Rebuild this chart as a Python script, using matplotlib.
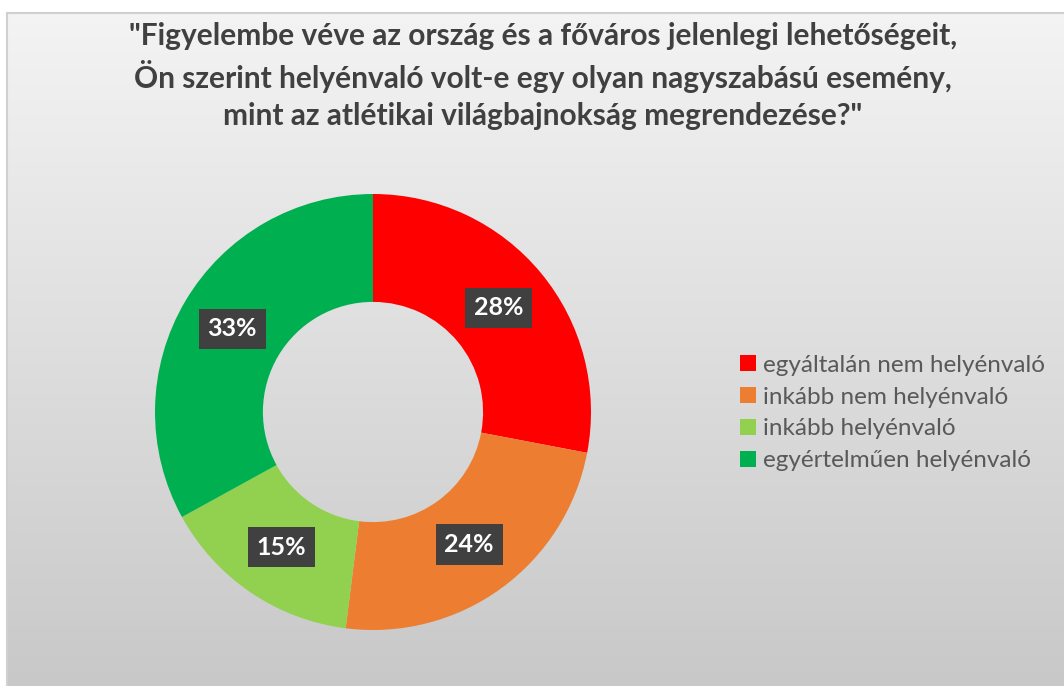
import numpy as np
import matplotlib.pyplot as plt
from matplotlib.patches import Patch

# Data
categories = [
    "egyáltalán nem helyénvaló",
    "inkább nem helyénvaló",
    "inkább helyénvaló",
    "egyértelműen helyénvaló",
]
shares = [28, 24, 15, 33]
colors = ["#FF0000", "#ED7D31", "#92D050", "#00B050"]

TITLE = ('"Figyelembe véve az ország és a főváros jelenlegi lehetőségeit,\n'
         'Ön szerint helyénvaló volt-e egy olyan nagyszabású esemény,\n'
         'mint az atlétikai világbajnokság megrendezése?"')
TEXT = "#404040"
FONT = "Lato"

W, H = 1064, 686
fig = plt.figure(figsize=(W / 100, H / 100), dpi=100)
fig.patch.set_facecolor("white")

# chart area background with a soft vertical gradient
bg = fig.add_axes([7 / W, 0, 1 - 7 / W, 1 - 13 / H])
grad = np.linspace(0, 1, 256).reshape(-1, 1)
top, bottom = np.array([0.955, 0.955, 0.955]), np.array([0.785, 0.785, 0.785])
img = top + (bottom - top) * grad[..., None]
bg.imshow(img, aspect="auto", extent=[0, 1, 0, 1], origin="upper")
bg.set_xticks([])
bg.set_yticks([])
for s in ["right", "bottom"]:
    bg.spines[s].set_visible(False)
for s in ["left", "top"]:
    bg.spines[s].set_color("#d0d0d0")
    bg.spines[s].set_linewidth(1.5)

# donut
cx, cy, r = 373, 412, 218
ax = fig.add_axes([(cx - r) / W, 1 - (cy + r) / H, 2 * r / W, 2 * r / H])
ax.set_facecolor("none")
wedges, _ = ax.pie(shares, colors=colors, startangle=90, counterclock=False,
                   radius=1, wedgeprops=dict(width=0.495, linewidth=0))
ax.set_xlim(-1, 1)
ax.set_ylim(-1, 1)
ax.set_aspect("equal")
ax.axis("off")

# percentage labels in dark boxes
start = 90.0
for val in shares:
    mid = np.deg2rad(start - val / 100 * 360 / 2)
    start -= val / 100 * 360
    rr = 0.75
    ax.text(rr * np.cos(mid), rr * np.sin(mid), f"{val}%", ha="center", va="center",
            fontsize=18, fontweight="bold", color="white", family=FONT,
            bbox=dict(boxstyle="square,pad=0.35", fc="#404040", ec="none"))

# title
fig.text(543 / W, 1 - 76 / H, TITLE, ha="center", va="center", fontsize=21.5,
         fontweight="bold", color=TEXT, family=FONT, linespacing=1.38)

# legend
handles = [Patch(facecolor=c, edgecolor="none", label=l) for c, l in zip(colors, categories)]
fig.legend(handles=handles, loc="center left", bbox_to_anchor=(718 / W, 1 - 413 / H),
           frameon=False, labelcolor="#595959", handlelength=0.65,
           handleheight=0.65, handletextpad=0.3, labelspacing=0.45,
           prop=dict(family=FONT, size=17.5))

fig.savefig("out.png", dpi=100)
